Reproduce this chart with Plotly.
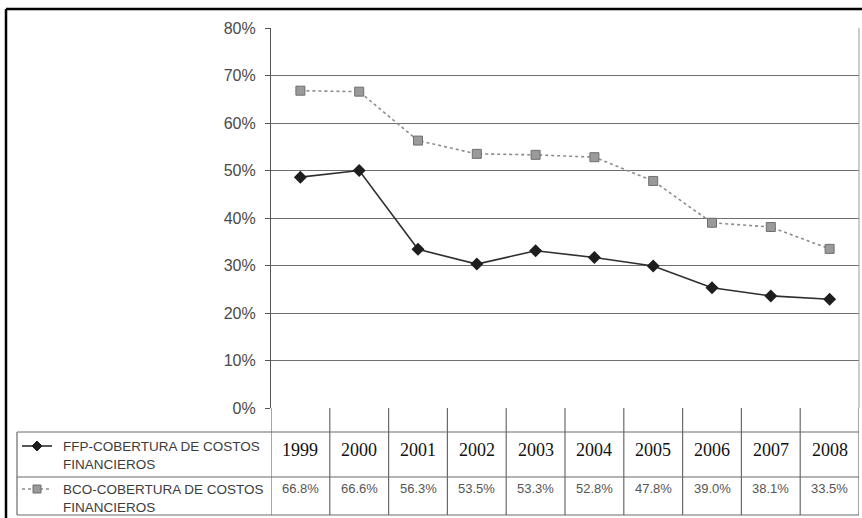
import plotly.graph_objects as go

# Data
years = ["1999", "2000", "2001", "2002", "2003", "2004", "2005", "2006", "2007", "2008"]
ffp = [48.6, 50.0, 33.4, 30.3, 33.1, 31.7, 29.9, 25.3, 23.6, 22.9]
bco = [66.8, 66.6, 56.3, 53.5, 53.3, 52.8, 47.8, 39.0, 38.1, 33.5]
ffp_label = ["FFP-COBERTURA DE COSTOS", "FINANCIEROS"]
bco_label = ["BCO-COBERTURA DE COSTOS", "FINANCIEROS"]
y_ticks = [0, 10, 20, 30, 40, 50, 60, 70, 80]

W, H = 862, 518
L, R, T, B = 271, 859, 28, 408


def xp(px):
    return (px - L) / (R - L)


def yp(py):
    return (B - py) / (B - T)


SANS = "Liberation Sans, Arial, sans-serif"
SERIF = "Liberation Serif, Times New Roman, serif"
GRID = "#6f6f6f"
TABLE = "#6a6a6a"
FFP_LINE, FFP_MARK = "#2e2e2e", "#1e1e1e"
BCO_LINE, BCO_MARK, BCO_EDGE = "#8c8c8c", "#9a9a9a", "#6e6e6e"

fig = go.Figure()

fig.add_trace(go.Scatter(
    x=years, y=[v / 100 for v in bco], mode="lines+markers",
    name="BCO", line=dict(color=BCO_LINE, width=1.6, dash="dot"),
    marker=dict(symbol="square", size=9, color=BCO_MARK,
                line=dict(color=BCO_EDGE, width=1)),
    showlegend=False,
))
fig.add_trace(go.Scatter(
    x=years, y=[v / 100 for v in ffp], mode="lines+markers",
    name="FFP", line=dict(color=FFP_LINE, width=1.6),
    marker=dict(symbol="diamond", size=10, color=FFP_MARK),
    showlegend=False,
))

shapes = []
annotations = []

# right edge of the plot area
shapes.append(dict(type="line", xref="paper", yref="paper", x0=1, x1=1, y0=0, y1=1,
                   line=dict(color="#9a9a9a", width=1)))

# data table below the chart
t_top, t_mid, t_bot, t_left = 432, 477, 515, 17
for py in (t_top, t_mid, t_bot):
    shapes.append(dict(type="line", xref="paper", yref="paper",
                       x0=xp(t_left), x1=1, y0=yp(py), y1=yp(py),
                       line=dict(color=TABLE, width=1.2)))
shapes.append(dict(type="line", xref="paper", yref="paper",
                   x0=xp(t_left), x1=xp(t_left), y0=yp(t_top), y1=yp(t_bot),
                   line=dict(color=TABLE, width=1.2)))
for i in range(len(years) + 1):
    shapes.append(dict(type="line", xref="x", yref="paper",
                       x0=i - 0.5, x1=i - 0.5, y0=0, y1=yp(t_bot),
                       line=dict(color=TABLE, width=1.2)))

# legend keys inside the table
ffp_y, bco_y, key_x = 446, 489, 37
shapes.append(dict(type="line", xref="paper", yref="paper",
                   x0=xp(22), x1=xp(52), y0=yp(ffp_y), y1=yp(ffp_y),
                   line=dict(color=FFP_LINE, width=1.6)))
shapes.append(dict(type="line", xref="paper", yref="paper",
                   x0=xp(22), x1=xp(52), y0=yp(bco_y), y1=yp(bco_y),
                   line=dict(color=BCO_LINE, width=1.6, dash="dot")))
d = 5
shapes.append(dict(
    type="path", xref="paper", yref="paper",
    path=(f"M {xp(key_x)},{yp(ffp_y - d)} L {xp(key_x + d)},{yp(ffp_y)} "
          f"L {xp(key_x)},{yp(ffp_y + d)} L {xp(key_x - d)},{yp(ffp_y)} Z"),
    fillcolor=FFP_MARK, line=dict(color=FFP_MARK, width=1)))
s = 4
shapes.append(dict(type="rect", xref="paper", yref="paper",
                   x0=xp(key_x - s), x1=xp(key_x + s),
                   y0=yp(bco_y + s), y1=yp(bco_y - s),
                   fillcolor=BCO_MARK, line=dict(color=BCO_EDGE, width=1)))

for txt, py in zip(ffp_label + bco_label, [446, 464, 489, 507]):
    annotations.append(dict(xref="paper", yref="paper", x=xp(61), y=yp(py),
                            text=txt, showarrow=False, xanchor="left", yanchor="middle",
                            font=dict(family=SANS, size=13.5, color="#3c3c3c")))

for i, yr in enumerate(years):
    annotations.append(dict(xref="x", yref="paper", x=i, y=yp(450), text=yr,
                            showarrow=False, xanchor="center", yanchor="middle",
                            font=dict(family=SERIF, size=18, color="#111111")))
    annotations.append(dict(xref="x", yref="paper", x=i, y=yp(488),
                            text=f"{bco[i]:.1f}%", showarrow=False,
                            xanchor="center", yanchor="middle",
                            font=dict(family=SANS, size=13, color="#555555")))

# outer frame
shapes.append(dict(type="line", xref="paper", yref="paper",
                   x0=xp(6), x1=xp(W + 5), y0=yp(9), y1=yp(9),
                   line=dict(color="#000000", width=2.5)))
shapes.append(dict(type="line", xref="paper", yref="paper",
                   x0=xp(6), x1=xp(6), y0=yp(9), y1=yp(H + 5),
                   line=dict(color="#000000", width=2.5)))

fig.update_layout(
    width=W, height=H,
    margin=dict(l=L, r=W - R, t=T, b=H - B),
    paper_bgcolor="white", plot_bgcolor="white",
    shapes=shapes, annotations=annotations,
    xaxis=dict(type="category", range=[-0.5, len(years) - 0.5],
               showticklabels=False, showgrid=False, zeroline=False,
               showline=False, ticks=""),
    yaxis=dict(range=[0, 0.8], tickvals=[v / 100 for v in y_ticks],
               ticktext=[f"{v}%" for v in y_ticks],
               showgrid=True, gridcolor=GRID, gridwidth=1.2,
               zeroline=False, showline=True, linecolor="#555555", linewidth=1.2,
               ticks="outside", ticklen=5, tickcolor="#555555", tickwidth=1.2,
               ticklabelstandoff=6,
               tickfont=dict(family=SANS, size=16, color="#4a4a4a")),
)

fig.write_html("out.html")
